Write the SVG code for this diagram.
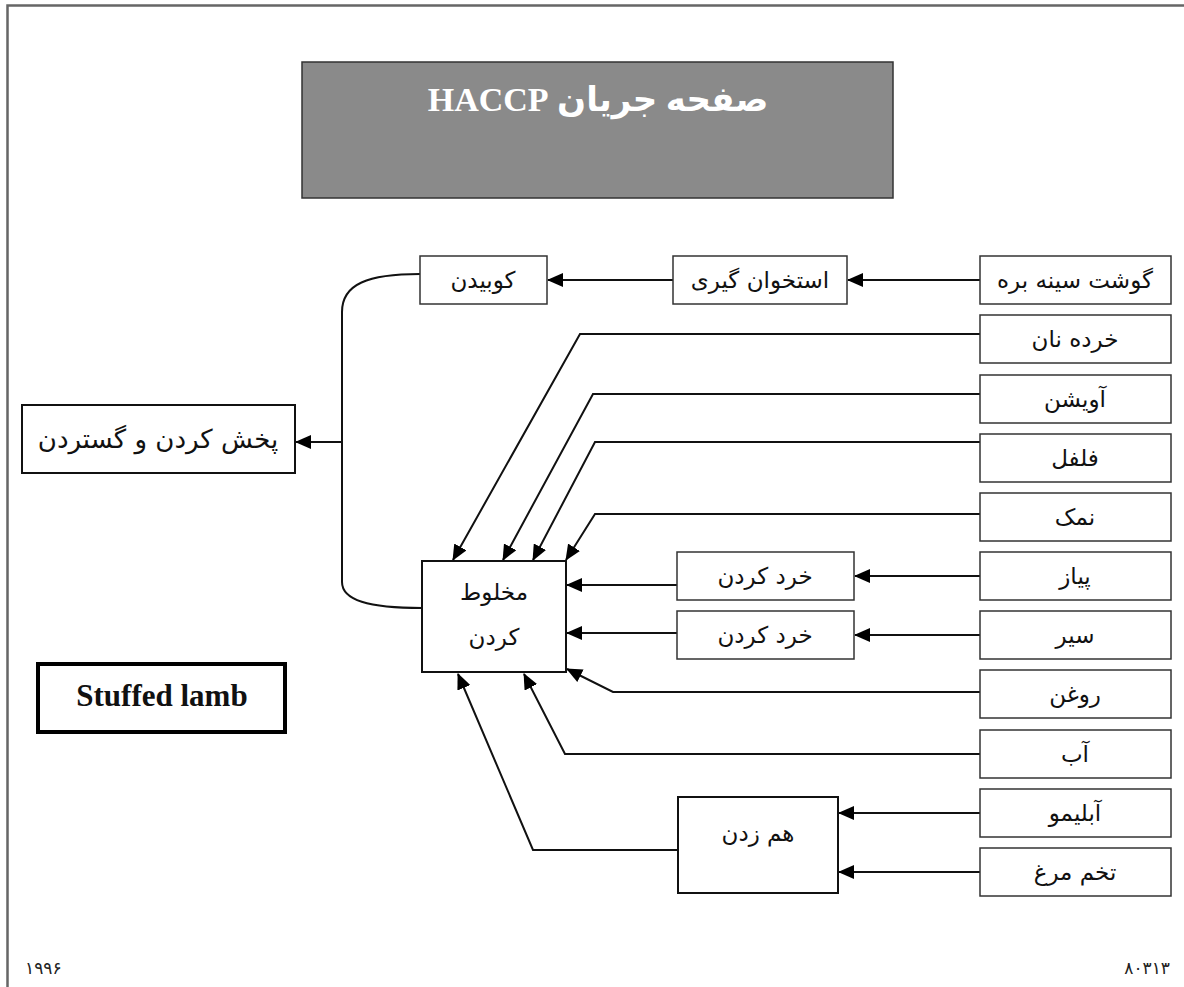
<svg xmlns="http://www.w3.org/2000/svg" width="1184" height="987" viewBox="0 0 1184 987">
  <style>
    .box { fill: #ffffff; stroke: #333333; stroke-width: 1.5; }
    .lbl { font-family: "DejaVu Sans", "Liberation Sans", sans-serif; font-size: 23px; fill: #111111; text-anchor: middle; direction: rtl; }
    .conn { fill: none; stroke: #111111; stroke-width: 2; }
    .foot { font-family: "DejaVu Sans", sans-serif; font-size: 17px; fill: #222222; }
  </style>
  <defs>
    <marker id="ah" markerWidth="16" markerHeight="14" refX="15" refY="7" orient="auto" markerUnits="userSpaceOnUse">
      <path d="M0,0 L16,7 L0,14 z" fill="#000000"/>
    </marker>
  </defs>

  <rect x="0" y="0" width="1184" height="987" fill="#ffffff"/>
  <!-- page frame -->
  <path d="M7.5,987 V5.5 H1184" fill="none" stroke="#666666" stroke-width="2.5"/>

  <!-- title -->
  <g id="title">
    <rect x="302" y="62" width="591" height="136" fill="#8a8a8a" stroke="#333333" stroke-width="1.5"/>
    <text x="598" y="111" font-family="'Liberation Serif', 'DejaVu Sans', serif" font-weight="bold" font-size="34" fill="#ffffff" text-anchor="middle" direction="rtl">صفحه جریان HACCP</text>
  </g>

  <!-- connectors -->
  <g id="connectors">
    <path class="conn" d="M980,280 H848" marker-end="url(#ah)"/>
    <path class="conn" d="M673,280 H548" marker-end="url(#ah)"/>
    <path class="conn" d="M980,334 H580 L453,560" marker-end="url(#ah)"/>
    <path class="conn" d="M980,394 H593 L503,560" marker-end="url(#ah)"/>
    <path class="conn" d="M980,442 H595 L533,560" marker-end="url(#ah)"/>
    <path class="conn" d="M980,514 H595 L566,560" marker-end="url(#ah)"/>
    <path class="conn" d="M980,576 H855" marker-end="url(#ah)"/>
    <path class="conn" d="M980,635 H855" marker-end="url(#ah)"/>
    <path class="conn" d="M677,585 H567" marker-end="url(#ah)"/>
    <path class="conn" d="M677,633 H567" marker-end="url(#ah)"/>
    <path class="conn" d="M980,692 H613 L567,669" marker-end="url(#ah)"/>
    <path class="conn" d="M980,754 H565 L524,674" marker-end="url(#ah)"/>
    <path class="conn" d="M980,813 H839" marker-end="url(#ah)"/>
    <path class="conn" d="M980,872 H839" marker-end="url(#ah)"/>
    <path class="conn" d="M678,850 H533 L458,674" marker-end="url(#ah)"/>
    <path class="conn" d="M420,274 C368,274 342,284 342,312 V582 C342,600 368,608 422,608"/>
    <path class="conn" d="M342,442 H296" marker-end="url(#ah)"/>
  </g>

  <!-- ingredient column -->
  <g id="n-lamb"><rect class="box" x="980" y="256" width="191" height="48"/><text class="lbl" x="1075" y="288">گوشت سینه بره</text></g>
  <g id="n-bread"><rect class="box" x="980" y="315" width="191" height="48"/><text class="lbl" x="1075" y="347">خرده نان</text></g>
  <g id="n-thyme"><rect class="box" x="980" y="375" width="191" height="48"/><text class="lbl" x="1075" y="407">آویشن</text></g>
  <g id="n-pepper"><rect class="box" x="980" y="434" width="191" height="48"/><text class="lbl" x="1075" y="466">فلفل</text></g>
  <g id="n-salt"><rect class="box" x="980" y="493" width="191" height="48"/><text class="lbl" x="1075" y="525">نمک</text></g>
  <g id="n-onion"><rect class="box" x="980" y="552" width="191" height="48"/><text class="lbl" x="1075" y="584">پیاز</text></g>
  <g id="n-garlic"><rect class="box" x="980" y="611" width="191" height="48"/><text class="lbl" x="1075" y="643">سیر</text></g>
  <g id="n-oil"><rect class="box" x="980" y="670" width="191" height="48"/><text class="lbl" x="1075" y="702">روغن</text></g>
  <g id="n-water"><rect class="box" x="980" y="730" width="191" height="48"/><text class="lbl" x="1075" y="762">آب</text></g>
  <g id="n-lemon"><rect class="box" x="980" y="789" width="191" height="48"/><text class="lbl" x="1075" y="821">آبلیمو</text></g>
  <g id="n-egg"><rect class="box" x="980" y="848" width="191" height="48"/><text class="lbl" x="1075" y="880">تخم مرغ</text></g>

  <!-- process steps -->
  <g id="n-debone"><rect class="box" x="673" y="256" width="174" height="48"/><text class="lbl" x="760" y="288">استخوان گیری</text></g>
  <g id="n-pound"><rect class="box" x="420" y="256" width="127" height="48"/><text class="lbl" x="483" y="288">کوبیدن</text></g>
  <g id="n-chop1"><rect class="box" x="677" y="552" width="177" height="48"/><text class="lbl" x="765" y="584">خرد کردن</text></g>
  <g id="n-chop2"><rect class="box" x="677" y="611" width="177" height="48"/><text class="lbl" x="765" y="643">خرد کردن</text></g>
  <g id="n-mix">
    <rect x="422" y="561" width="144" height="111" fill="#ffffff" stroke="#111111" stroke-width="2"/>
    <text class="lbl" x="494" y="600">مخلوط</text>
    <text class="lbl" x="494" y="645">کردن</text>
  </g>
  <g id="n-whisk">
    <rect x="678" y="797" width="160" height="96" fill="#ffffff" stroke="#111111" stroke-width="2"/>
    <text class="lbl" x="758" y="841">هم زدن</text>
  </g>
  <g id="n-spread">
    <rect x="22" y="405" width="273" height="68" fill="#ffffff" stroke="#111111" stroke-width="2"/>
    <text class="lbl" x="158" y="448" style="font-size:26px">پخش کردن و گستردن</text>
  </g>

  <!-- product label -->
  <g id="n-product">
    <rect x="38" y="664" width="247" height="68" fill="#ffffff" stroke="#000000" stroke-width="4"/>
    <text x="162" y="706" font-family="'Liberation Serif', serif" font-weight="bold" font-size="31" fill="#111111" text-anchor="middle">Stuffed lamb</text>
  </g>

  <!-- footer -->
  <text class="foot" x="25" y="974">۱۹۹۶</text>
  <text class="foot" x="1170" y="974" text-anchor="end">۸۰۳۱۳</text>
</svg>
